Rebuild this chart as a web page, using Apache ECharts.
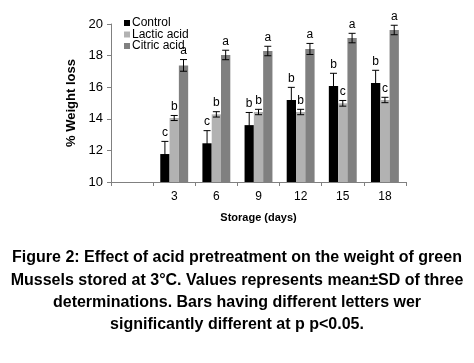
<!DOCTYPE html>
<html><head><meta charset="utf-8">
<script src="https://cdn.jsdelivr.net/npm/echarts@6/dist/echarts.min.js"></script>
<style>html,body{margin:0;padding:0;background:#fff}#c{width:474px;height:363px}</style>
</head><body><div id="c"></div>
<script>
var categories = ['', '3', '6', '9', '12', '15', '18'];
var controlMean = ['-', 11.77, 12.45, 13.6, 15.19, 16.08, 16.27];
var controlSD = [0, 0.8, 0.8, 0.8, 0.8, 0.8, 0.8];
var controlLetters = ['', 'c', 'c', 'b', 'b', 'b', 'b'];
var lacticMean = ['-', 14.05, 14.28, 14.43, 14.43, 14.98, 15.19];
var lacticSD = [0, 0.16, 0.17, 0.17, 0.17, 0.18, 0.17];
var lacticLetters = ['', 'b', 'b', 'b', 'b', 'c', 'c'];
var citricMean = ['-', 17.38, 18.04, 18.29, 18.42, 19.11, 19.62];
var citricSD = [0, 0.37, 0.3, 0.3, 0.35, 0.3, 0.3];
var citricLetters = ['', 'a', 'a', 'a', 'a', 'a', 'a'];
var seriesNames = ['Control', 'Lactic acid', 'Citric acid'];
var yTicks = [10, 12, 14, 16, 18, 20];
var captionLines = [
  'Figure 2: Effect of acid pretreatment on the weight of green',
  'Mussels stored at 3\u00b0C. Values represents mean\u00b1SD of three',
  'determinations. Bars having different letters wer',
  'significantly different at p p<0.05.'
];

var FONT = '"Liberation Sans", Arial, sans-serif';
var BW = 9.3;
var colors = ['#000000', '#b2b2b2', '#808080'];
var means = [controlMean, lacticMean, citricMean];
var sds = [controlSD, lacticSD, citricSD];
var letters = [controlLetters, lacticLetters, citricLetters];

function errData(k) {
  var out = [];
  for (var i = 0; i < categories.length; i++) {
    if (means[k][i] === '-') continue;
    out.push([i, means[k][i], sds[k][i], letters[k][i]]);
  }
  return out;
}
function errSeries(k) {
  return {
    type: 'custom', z: 10, silent: true,
    data: errData(k),
    encode: {x: 0, y: 1},
    renderItem: function (params, api) {
      var c = api.coord([api.value(0), api.value(1)]);
      var x = c[0] + (k - 1) * BW;
      var m = api.value(1), s = api.value(2);
      var top = api.coord([api.value(0), m + s])[1];
      var bot = api.coord([api.value(0), m - s])[1];
      var hw = 3.5;
      var st = {stroke: '#000', lineWidth: 1};
      return {type: 'group', children: [
        {type: 'line', shape: {x1: x, y1: top, x2: x, y2: bot}, style: st},
        {type: 'line', shape: {x1: x - hw, y1: top, x2: x + hw, y2: top}, style: st},
        {type: 'line', shape: {x1: x - hw, y1: bot, x2: x + hw, y2: bot}, style: st},
        {type: 'text', style: {x: x, y: top - 3, text: api.value(3), textAlign: 'center', textVerticalAlign: 'bottom', font: '12px ' + FONT, fill: '#000'}}
      ]};
    }
  };
}

var chart = echarts.init(document.getElementById('c'), null, {renderer: 'canvas'});
var graphics = captionLines.map(function (t, i) {
  return {type: 'text', left: 'center', top: 250 + i * 22.3,
    style: {text: t, font: 'bold 16px ' + FONT, fill: '#000'}};
});
chart.setOption({
  animation: false,
  grid: {left: 111, right: 68, top: 24, bottom: 181},
  legend: {
    left: 119, top: 12, orient: 'vertical', itemWidth: 6, itemHeight: 6, itemGap: -0.5,
    icon: 'rect', data: seriesNames,
    textStyle: {fontFamily: FONT, fontSize: 12, lineHeight: 11, color: '#000', padding: [0, 0, 0, -3]}
  },
  xAxis: {
    type: 'category', data: categories,
    name: 'Storage (days)', nameLocation: 'middle', nameGap: 30,
    nameTextStyle: {fontFamily: FONT, fontWeight: 'bold', fontSize: 11, color: '#000'},
    axisLine: {lineStyle: {color: '#808080'}},
    axisTick: {show: true, alignWithLabel: false, length: 4, lineStyle: {color: '#808080'}},
    axisLabel: {fontFamily: FONT, fontSize: 12, color: '#000', margin: 9}
  },
  yAxis: {
    type: 'value', min: yTicks[0], max: yTicks[yTicks.length - 1], interval: 2,
    name: '% Weight loss', nameLocation: 'middle', nameGap: 33,
    nameTextStyle: {fontFamily: FONT, fontWeight: 'bold', fontSize: 13, color: '#000'},
    splitLine: {show: false},
    axisLine: {show: true, lineStyle: {color: '#808080'}},
    axisTick: {show: true, length: 4, lineStyle: {color: '#808080'}},
    axisLabel: {fontFamily: FONT, fontSize: 13, color: '#000', margin: 8}
  },
  graphic: graphics,
  series: [
    {name: seriesNames[0], type: 'bar', data: controlMean, barWidth: BW, barGap: '0%', itemStyle: {color: colors[0]}},
    {name: seriesNames[1], type: 'bar', data: lacticMean, barWidth: BW, barGap: '0%', itemStyle: {color: colors[1]}},
    {name: seriesNames[2], type: 'bar', data: citricMean, barWidth: BW, barGap: '0%', itemStyle: {color: colors[2]}},
    errSeries(0), errSeries(1), errSeries(2)
  ]
});
</script></body></html>
